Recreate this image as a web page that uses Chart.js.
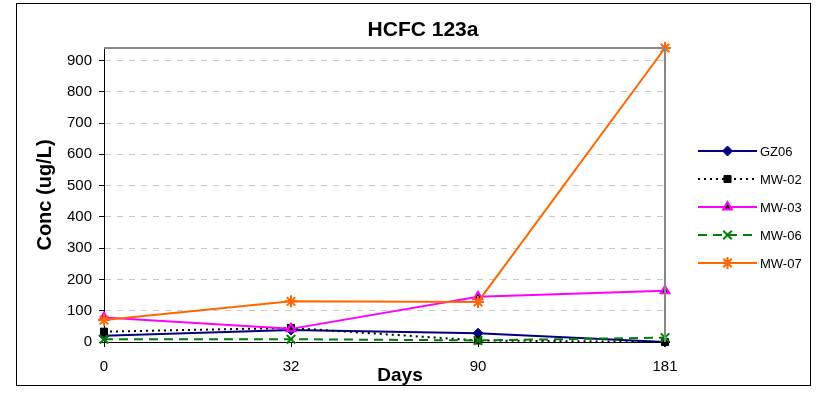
<!DOCTYPE html>
<html>
<head>
<meta charset="utf-8">
<script src="https://cdn.jsdelivr.net/npm/chart.js@4"></script>
<style>
  html, body { margin: 0; padding: 0; background: #fff; }
  #wrap { position: absolute; left: 0; top: 0; width: 824px; height: 401px; }
</style>
</head>
<body>
<div id="wrap"><canvas id="c" width="824" height="401"></canvas></div>
<script>
const days = ['0', '32', '90', '181'];
const yTicks = [0, 100, 200, 300, 400, 500, 600, 700, 800, 900];
const gz06 = [20, 38, 28, 0];
const mw02 = [33, 45, 5, 0];
const mw03 = [78, 42, 145, 164];
const mw06 = [9, 9, 5, 14];
const mw07 = [70, 130, 128, 940];

const FONT = "'Liberation Sans', Arial, sans-serif";

const datasets = [
  { label: 'GZ06', data: gz06, borderColor: '#000080', backgroundColor: '#000080',
    borderWidth: 2, pointStyle: 'rectRot', pointRadius: 5, pointBorderWidth: 1, order: 5 },
  { label: 'MW-02', data: mw02, borderColor: '#000000', backgroundColor: '#000000',
    borderWidth: 2, borderDash: [2, 4], pointStyle: 'rect', pointRadius: 5, pointBorderWidth: 1, order: 4 },
  { label: 'MW-03', data: mw03, borderColor: '#FF00FF', backgroundColor: '#000000',
    pointBorderColor: '#FF00FF', borderWidth: 2, pointStyle: 'triangle', pointRadius: 5, pointBorderWidth: 2, order: 3 },
  { label: 'MW-06', data: mw06, borderColor: '#008000', backgroundColor: '#008000',
    borderWidth: 2, borderDash: [9, 6], pointStyle: 'crossRot', pointRadius: 6, pointBorderWidth: 2, order: 2 },
  { label: 'MW-07', data: mw07, borderColor: '#FF6600', backgroundColor: '#FF6600',
    borderWidth: 2, pointStyle: 'star', pointRadius: 6, pointBorderWidth: 2, order: 1 }
];
datasets.forEach(d => { d.clip = false; d.tension = 0; d.fill = false; });

const deco = {
  id: 'deco',
  beforeDraw(chart) {
    const ctx = chart.ctx;
    ctx.save();
    ctx.fillStyle = '#fff';
    ctx.fillRect(0, 0, chart.width, chart.height);
    ctx.restore();
  },
  afterDraw(chart) {
    const ctx = chart.ctx;
    const a = chart.chartArea;
    ctx.save();
    // outer border
    ctx.strokeStyle = '#000';
    ctx.lineWidth = 1;
    ctx.strokeRect(16.5, 3.5, 794, 382);
    // plot top/right border
    ctx.strokeStyle = '#888';
    ctx.lineWidth = 2;
    ctx.beginPath();
    ctx.moveTo(a.left, a.top);
    ctx.lineTo(a.right, a.top);
    ctx.lineTo(a.right, a.bottom);
    ctx.stroke();
    // title
    ctx.fillStyle = '#000';
    ctx.font = 'bold 21px ' + FONT;
    ctx.textAlign = 'center';
    ctx.textBaseline = 'middle';
    ctx.fillText('HCFC 123a', 423, 30);
    // x axis title
    ctx.font = 'bold 19px ' + FONT;
    ctx.fillText('Days', 400, 376);
    // legend
    const ys = [151, 179, 207, 235, 263];
    chart.data.datasets.forEach((d, i) => {
      const y = ys[i];
      ctx.save();
      ctx.strokeStyle = d.borderColor;
      ctx.lineWidth = d.borderWidth;
      ctx.setLineDash(d.borderDash || []);
      ctx.beginPath();
      ctx.moveTo(698, y);
      ctx.lineTo(757, y);
      ctx.stroke();
      ctx.setLineDash([]);
      ctx.fillStyle = d.backgroundColor;
      ctx.strokeStyle = d.pointBorderColor || d.borderColor;
      ctx.lineWidth = d.pointBorderWidth;
      Chart.helpers.drawPoint(ctx, { pointStyle: d.pointStyle, radius: d.pointRadius, borderWidth: d.pointBorderWidth, rotation: 0 }, 727.5, y);
      ctx.restore();
      ctx.fillStyle = '#000';
      ctx.font = '13px ' + FONT;
      ctx.textAlign = 'left';
      ctx.textBaseline = 'middle';
      ctx.fillText(d.label, 760, y + 1);
    });
    ctx.restore();
  }
};

new Chart(document.getElementById('c'), {
  type: 'line',
  data: { labels: days, datasets: datasets },
  plugins: [deco],
  options: {
    responsive: false,
    animation: false,
    devicePixelRatio: 1,
    layout: { padding: { left: 16, right: 159, top: 48, bottom: 14 } },
    plugins: { legend: { display: false }, title: { display: false }, tooltip: { enabled: false } },
    scales: {
      x: {
        type: 'category',
        offset: false,
        afterFit(s) { s.height = 45; },
        grid: { drawOnChartArea: false, drawTicks: true, tickLength: 5, tickColor: '#000', color: '#000' },
        border: { display: true, color: '#000', width: 1 },
        ticks: { color: '#000', font: { family: FONT, size: 15 }, padding: 11, maxRotation: 0 },
        title: { display: false }
      },
      y: {
        min: 0,
        max: 940,
        afterFit(s) { s.width = 88; },
        afterBuildTicks(s) { s.ticks = yTicks.map(v => ({ value: v })); },
        grid: { color: '#c8c8c8', tickColor: '#000', tickLength: 5, tickBorderDash: [], lineWidth: 1 },
        border: { display: true, color: '#000', width: 1, dash: [6, 6] },
        ticks: { color: '#000', font: { family: FONT, size: 15 }, padding: 7 },
        title: { display: true, text: 'Conc (ug/L)', color: '#000', font: { family: FONT, size: 20, weight: 'bold' }, padding: { top: 17, bottom: 0 } }
      }
    }
  }
});
</script>
</body>
</html>
